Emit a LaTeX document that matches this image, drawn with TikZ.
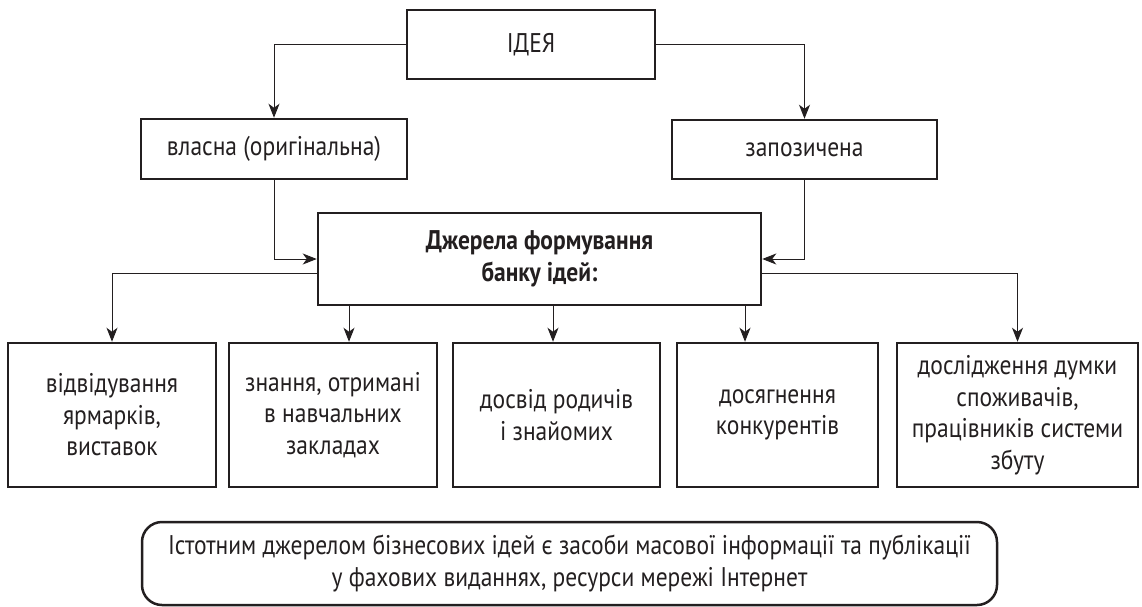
\documentclass[tikz,border=0pt]{standalone}
\usepackage{fontspec}
\setmainfont{PT Sans}[FakeStretch=0.87]
\usetikzlibrary{arrows.meta}
\definecolor{ink}{RGB}{35,31,32}
\begin{document}
\begin{tikzpicture}[x=1pt,y=-1pt,
  box/.style={draw=ink, text=ink, line width=2.5pt, inner sep=0pt, align=center,
    font=\fontsize{27}{31.5}\selectfont},
  conn/.style={draw=ink, line width=1pt, -{Stealth[length=14pt,width=11pt,inset=4pt]}}]
\useasboundingbox (0,0) rectangle (1142,606);
% top level
\node[box, minimum width=248pt, minimum height=69pt] (idea) at (531,44.5) {ІДЕЯ};
\node[box, minimum width=266pt, minimum height=60pt] (own) at (274,149) {власна (оригінальна)};
\node[box, minimum width=265pt, minimum height=59pt] (borrowed) at (804.5,149.5) {запозичена};
\node[box, minimum width=443pt, minimum height=92pt, font=\fontsize{27}{31.5}\selectfont\bfseries] (main) at (539.5,259) {Джерела формування\\банку ідей:};
% bottom boxes
\node[box, minimum width=208pt, minimum height=144pt] (b1) at (112,415) {відвідування\\ярмарків,\\виставок};
\node[box, minimum width=208pt, minimum height=144pt] (b2) at (333,415) {знання, отримані\\в навчальних\\закладах};
\node[box, minimum width=207pt, minimum height=144pt] (b3) at (556.5,415) {досвід родичів\\і знайомих};
\node[box, minimum width=201pt, minimum height=144pt] (b4) at (777.5,415) {досягнення\\конкурентів};
\node[box, minimum width=241pt, minimum height=144pt] (b5) at (1017.5,415) {дослідження думки\\споживачів,\\працівників системи\\збуту};
% note
\node[box, rounded corners=20pt, minimum width=855pt, minimum height=83pt] (note) at (569.5,563.5)
  {Істотним джерелом бізнесових ідей є засоби масової інформації та публікації\\у фахових виданнях, ресурси мережі Інтернет};
% connectors
\draw[conn] (idea.west) -| (own.north);
\draw[conn] (idea.east) -| (borrowed.north);
\draw[conn] (own.south) |- (main.west);
\draw[conn] (borrowed.south) |- (main.east);
\draw[conn] ([yshift=-14pt]main.west) -| (b1.north);
\draw[conn] ([yshift=-14pt]main.east) -| (b5.north);
\draw[conn] ([xshift=-190.5pt]main.south) -- ([xshift=-190.5pt]main.south |- b2.north);
\draw[conn] ([xshift=13.5pt]main.south) -- ([xshift=13.5pt]main.south |- b3.north);
\draw[conn] ([xshift=205.5pt]main.south) -- ([xshift=205.5pt]main.south |- b4.north);
\end{tikzpicture}
\end{document}
